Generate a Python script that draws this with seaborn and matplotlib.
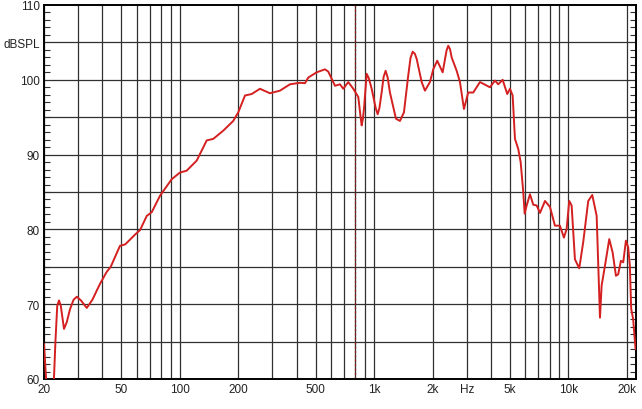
import numpy as np
import pandas as pd
import matplotlib
matplotlib.use("Agg")
import matplotlib.pyplot as plt
from matplotlib.ticker import FixedLocator, NullFormatter
import seaborn as sns

# frequency response (Hz, dB SPL)
freq_hz = [20, 20.5, 21.5, 22.5, 22.9, 23.4, 23.9, 24.4, 25.35, 26.2, 27.2,
           28.4, 29.5, 31.0, 33.2, 35.5,
           38.8, 42.0, 44.1, 49.2, 52.4, 58.8, 62.4, 67.6, 71.7, 79.1, 90.8,
           100.2, 108.5, 122.2, 137.6, 148.7, 167.4, 188.4, 200, 216.6, 234.5,
           258.7, 291.2, 327.9, 369.2, 415.7, 441, 458.6, 506.3, 558.7, 581,
           629.3, 667.6, 694.3, 736.6, 781.7, 829.5, 850, 863.5, 875, 887.3,
           916.2, 940, 972,
           1020, 1044, 1065, 1094, 1120, 1147, 1175, 1207, 1296, 1359, 1425,
           1499, 1540, 1580, 1620, 1657, 1758,
           1828, 1939, 2017, 2114, 2255, 2360, 2409, 2460, 2508, 2662, 2768,
           2902, 3053,
           3240, 3508, 3950, 4190, 4357, 4590, 4848, 5005, 5168, 5312, 5524,
           5683, 5861, 5959, 6102, 6346, 6600, 6871, 7147, 7583, 8045, 8531,
           9050, 9490, 9800, 10107, 10398, 10814, 11380, 11930, 12660, 13280,
           13990, 14550, 14840, 15430, 16240, 16910, 17580, 18060, 18650,
           19170, 19790, 20330, 20740, 21060, 21560, 22180]
spl_db = [64.7, 60.0, 52.0, 60.0, 65.0, 69.8, 70.5, 69.8, 66.7, 67.6, 69.3,
          70.6, 71.0, 70.5, 69.5, 70.6,
          72.7, 74.3, 75.0, 77.8, 78.0, 79.3, 79.9, 81.8, 82.3, 84.5, 86.7,
          87.6, 87.85, 89.2, 91.9, 92.1, 93.2, 94.5, 95.65, 97.9, 98.1,
          98.8, 98.2, 98.55, 99.4, 99.6, 99.55, 100.3, 101.0, 101.4, 101.1,
          99.2, 99.4, 98.8, 99.7, 98.8, 97.7, 95.3, 93.9, 94.7, 96.1,
          100.8, 100.2, 98.8,
          96.2, 95.4, 96.2, 98.3, 100.4, 101.2, 100.3, 98.3, 94.8, 94.5, 95.65,
          100.55, 102.9, 103.75, 103.5, 102.8, 99.7,
          98.55, 99.7, 101.4, 102.55, 101.0, 103.9, 104.55, 104.1, 103.0, 101.2,
          99.7, 96.1, 98.3,
          98.3, 99.7, 99.0, 99.9, 99.4, 100.0, 98.1, 98.8, 97.9, 92.1, 90.75,
          89.0, 85.0, 82.1, 83.2, 84.7, 83.3, 83.2, 82.2, 83.8, 83.0, 80.5,
          80.5, 78.9, 80.05, 83.8, 83.2, 76.0, 74.8, 78.3, 83.8, 84.6,
          81.8, 68.2, 72.5, 75.1, 78.7, 76.9, 73.8, 74.0, 75.8,
          75.6, 78.5, 77.6, 75.1, 69.4, 68.0, 64.0]

x_tick_pos = [20, 50, 100, 200, 500, 1000, 2000, 3000, 5000, 10000, 20000]
x_tick_labels = ["20", "50", "100", "200", "500", "1k", "2k", "Hz", "5k", "10k", "20k"]
y_tick_pos = [60, 70, 80, 90, 100, 105, 110]
y_tick_labels = ["60", "70", "80", "90", "100", "dBSPL", "110"]
marker_hz = 800


def grid_freqs():
    out = []
    for decade in [10, 100, 1000, 10000]:
        for m in range(1, 10):
            f = m * decade
            if 20 <= f <= 20000:
                out.append(f)
    return out


def plot_graph():
    sns.set_style("white")
    plt.rcParams["font.family"] = ["Liberation Sans", "DejaVu Sans"]

    fig = plt.figure(figsize=(6.42, 4.10), dpi=100)
    ax = fig.add_axes([44 / 642, 1 - 380 / 410, 592 / 642, 374 / 410])

    for f in grid_freqs():
        ax.axvline(f, color="#303030", lw=0.9, zorder=1)
    for y in range(65, 110, 5):
        ax.axhline(y, color="#303030", lw=0.9, zorder=1)
    ax.axvline(marker_hz, color="#8b1a1a", lw=0.9, ls=(0, (2, 1.5)), zorder=2)

    df = pd.DataFrame({"freq": freq_hz, "spl": spl_db})
    sns.lineplot(data=df, x="freq", y="spl", sort=False, estimator=None,
                 color="#d42020", lw=1.4, ax=ax, zorder=3)

    ax.set_xscale("log")
    ax.set_xlim(20, 22300)
    ax.set_ylim(60, 110)
    ax.set_xlabel("")
    ax.set_ylabel("")

    ax.xaxis.set_major_locator(FixedLocator(x_tick_pos))
    ax.xaxis.set_minor_locator(FixedLocator([]))
    ax.set_xticklabels(x_tick_labels)
    ax.xaxis.set_minor_formatter(NullFormatter())
    ax.set_yticks(y_tick_pos)
    ax.set_yticklabels(y_tick_labels)
    ax.yaxis.set_minor_locator(FixedLocator(np.arange(61, 110, 1)))

    ax.tick_params(axis="both", which="major", length=0, labelsize=8.5,
                   colors="#222222", pad=3)
    ax.tick_params(axis="y", which="minor", direction="in", length=4,
                   width=0.8, left=True, right=True, color="#303030")

    for sp in ax.spines.values():
        sp.set_color("black")
        sp.set_linewidth(1.4)

    fig.savefig("out.png", dpi=100)
    plt.close(fig)


def main():
    plot_graph()


if __name__ == "__main__":
    main()
